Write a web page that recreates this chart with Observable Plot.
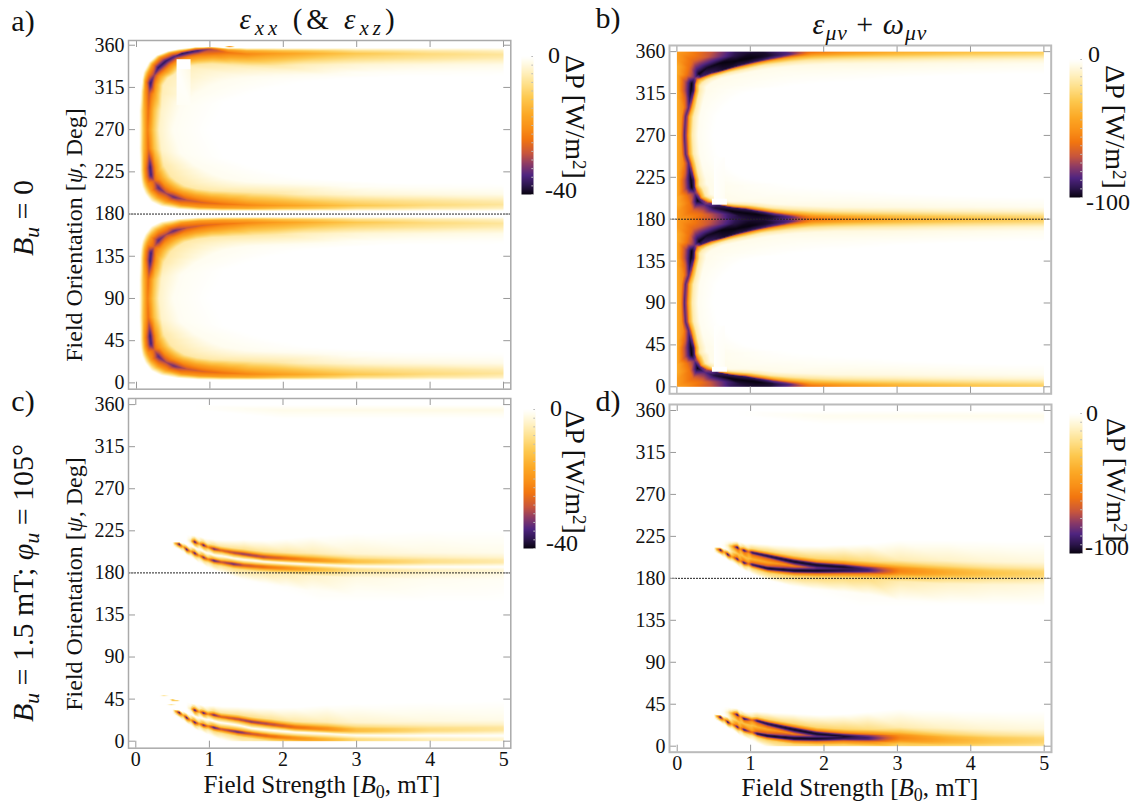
<!DOCTYPE html>
<html><head><meta charset="utf-8">
<script src="https://cdn.jsdelivr.net/npm/d3@7"></script>
<script src="https://cdn.jsdelivr.net/npm/@observablehq/plot@0.6"></script>
<style>
html,body{margin:0;background:#fff}
#c{position:relative;width:1139px;height:808px;overflow:hidden;font-family:"Liberation Serif",serif;color:#111}
#c svg{position:absolute;overflow:visible}
.t{position:absolute;white-space:nowrap;line-height:1.25}
.t sub{font-size:.72em;vertical-align:-0.28em;line-height:0}
.t sup{font-size:.68em;vertical-align:.42em;line-height:0}
.r{transform:translate(-50%,-50%) rotate(-90deg)}
.d{transform:translate(-50%,-50%) rotate(90deg)}
.m{transform:translate(-50%,-50%)}
</style></head><body><div id="c"></div>
<script>
// tick labels
const psiTicks=[0,45,90,135,180,225,270,315,360];
const bTicks=[0,1,2,3,4,5];
// colour ramp, position along the bar -> colour
const rampAt=[0,.03,.1,.2,.3,.42,.52,.6,.7,.78,.86,.93,1];
const rampCol=["#ffffff","#fffdf0","#fff3c8","#fee08a","#fdc84e","#fca825","#f98f17","#f2750f","#c9563c","#8b3a66","#4f2480","#2e1650","#080310"];
// Panel a: cross sections of the ridge, d = degrees from the 0/180 edge. Each row is b,d,v seven times.
const aQuarter=[
[.04,90,0, .09,90,-12, .15,90,-23, .23,90,-12, .31,90,-4, .5,90,-1, 1,90,0],
[.04,70,0, .09,70,-13, .16,70,-25, .24,70,-13, .34,68,-4, .6,65,-1, 1.2,60,0],
[.05,46,0, .11,48,-20, .185,50,-36, .26,50,-20, .37,52,-6, .8,52,-1.2, 1.6,50,0],
[.06,36,0, .12,39,-20, .195,42,-36, .27,44,-20, .42,46,-6, .95,46,-1.2, 1.9,44,0],
[.08,28,0, .15,32,-20, .24,35,-27, .32,38,-19, .47,40,-6, 1.05,42,-1.2, 2.1,42,0],
[.12,21,0, .2,25,-20, .3,28,-34, .38,32,-20, .55,35,-6, 1.2,38,-1.2, 2.2,40,0],
[.2,13,0, .3,18,-20, .4,22,-30, .49,26,-20, .66,30,-6, 1.35,36,-1.2, 2.4,38,0],
[.33,8,0, .42,13.5,-20, .51,18,-33, .62,22,-20, .82,27,-6, 1.55,34,-1.2, 2.6,37,0],
[.55,5,0, .63,9.5,-20, .7,14.5,-28, .8,19,-19, 1.02,25,-6, 1.85,33,-1.2, 2.8,36,0],
[.82,3.5,0, .87,7.5,-19, .92,12,-26, 1.02,17,-18, 1.3,24,-6, 2.2,32,-1.2, 3,35,0],
[1.15,3,0, 1.17,6.5,-18, 1.2,10.5,-24, 1.28,15.5,-17, 1.6,23,-6, 2.5,31,-1.2, 3.3,34,0],
[1.5,3,0, 1.5,6,-16, 1.5,9.5,-22, 1.5,14,-16, 1.9,22,-6, 2.8,30,-1, 3.6,33,0],
[2,3,0, 2,6,-13, 2,9,-18, 2,13.5,-14, 2.2,21,-5, 3,29,-.8, 3.9,33,0],
[2.5,3,0, 2.5,6,-11, 2.5,9,-15, 2.5,13.5,-11, 2.6,21,-4, 3.3,29,-.7, 4.2,33,0],
[3,3,0, 3,6,-8, 3,9,-12, 3,13.5,-9, 3,21,-3, 3.6,29,-.6, 4.5,33,0],
[4,3,0, 4,6,-6, 4,9.5,-9, 4,14,-7, 4,21,-2.2, 4.4,29,-.4, 4.8,33,0],
[5,3,0, 5,6,-4.5, 5,10,-7, 5,14,-5.5, 5,21,-1.7, 5,29,-.3, 5,33,0]];
// the top quadrant of panel a has a thinner, darker ridge
const aTop=[
[.04,90,0, .09,90,-12, .15,90,-23, .23,90,-12, .31,90,-4, .5,90,-1, 1,90,0],
[.04,70,0, .09,70,-13, .16,70,-25, .24,70,-13, .34,68,-4, .6,65,-1, 1.2,60,0],
[.06,48,0, .11,50,-18, .17,52,-28, .25,52,-18, .35,52,-5, .8,52,-1.2, 1.6,50,0],
[.08,36,0, .12,39,-20, .19,41,-37, .26,42,-20, .36,43,-5, .95,46,-1.2, 1.9,44,0],
[.1,28,0, .16,30,-20, .24,32,-31, .31,33,-20, .43,35,-5, 1.05,42,-1.2, 2.1,42,0],
[.17,18,0, .22,20.5,-20, .295,24,-37, .37,28,-22, .52,31,-5, 1.2,38,-1.2, 2.2,40,0],
[.27,11,0, .32,13,-20, .4,17,-37, .47,21,-22, .58,26,-5, 1.35,36,-1.2, 2.4,38,0],
[.42,6.5,0, .46,8.5,-20, .52,12,-35, .58,16,-20, .68,23,-5, 1.55,34,-1.2, 2.6,37,0],
[.58,4,0, .6,6.5,-20, .62,9,-38, .7,13,-22, .82,21,-6, 1.85,33,-1.2, 2.8,36,0],
[.8,2,0, .8,3.8,-22, .82,6,-36, .87,10,-24, 1.02,20,-6, 2.05,32,-1.2, 3,35,0],
[1,1.8,0, 1,3,-24, 1,4.5,-30, 1.07,9,-24, 1.3,21,-6, 2.5,31,-1.2, 3.3,34,0],
[1.25,3,0, 1.25,5,-18, 1.25,8,-24, 1.28,13,-17, 1.6,22,-6, 2.6,31,-1.2, 3.4,34,0],
[1.5,3,0, 1.5,6,-16, 1.5,9.5,-22, 1.5,14,-16, 1.9,22,-6, 2.8,30,-1, 3.6,33,0],
[2,3,0, 2,6,-13, 2,9,-18, 2,13.5,-14, 2.2,21,-5, 3,29,-.8, 3.9,33,0],
[2.5,3,0, 2.5,6,-11, 2.5,9,-15, 2.5,13.5,-11, 2.6,21,-4, 3.3,29,-.7, 4.2,33,0],
[3,3,0, 3,6,-8, 3,9,-12, 3,13.5,-9, 3,21,-3, 3.6,29,-.6, 4.5,33,0],
[4,3,0, 4,6,-6, 4,9.5,-9, 4,14,-7, 4,21,-2.2, 4.4,29,-.4, 4.8,33,0],
[5,3,0, 5,6,-4.5, 5,10,-7, 5,14,-5.5, 5,21,-1.7, 5,29,-.3, 5,33,0]];
const aWhite=[[[.54,296,-.9,.54,334,-.2],[.74,296,-.7,.74,334,-2.2]],[[.54,334,0,.54,345,0],[.74,334,0,.74,345,0]]];
// Panel b: cross sections, eight knots each
const bHead=[
[0,90,-40, .05,90,-48, .1,90,-85, .13,90,-72, .16,90,-42, .21,90,-14, .29,90,-3, .5,90,0],
[0,70,-40, .06,70,-50, .115,70,-84, .145,70,-72, .17,70,-42, .225,70,-14, .31,70,-3, .55,70,0],
[0,60,-40, .09,60,-55, .16,60,-85, .185,60,-72, .21,60,-42, .26,60,-14, .34,60,-3, .65,60,0],
[0,50,-40, .11,50,-66, .175,50,-94, .21,50,-82, .24,50,-42, .285,50,-14, .37,50,-3.5, .8,50,0],
[0,42,-40, .125,42,-78, .19,42,-100, .23,42,-90, .265,42,-42, .31,42,-14, .4,42,-4, .95,44,0],
[0,33,-40, .125,33,-76, .2,34,-100, .235,35,-90, .265,36,-42, .31,37,-14, .4,38,-4, 1.2,40,0],
[0,24,-40, .13,25,-60, .24,28,-82, .27,29,-72, .3,30.5,-42, .35,33,-14, .44,35,-4, 1.5,38,0]];
const bMid13=[
[0,16,-40, .17,17,-60, .28,20,-100, .31,22,-85, .34,23.5,-42, .39,25,-14, .46,27,-4, 1.7,35,0],
[0,8,-46, .22,9,-64, .38,15.5,-85, .41,18,-75, .44,19.5,-42, .49,21,-14, .58,23,-4, 1.8,35,0],
[0,0,-46, .34,5,-62, .52,12,-96, .55,15.5,-90, .57,16.5,-42, .62,17.5,-14, .72,19,-4, 1.9,34,0],
[.5,0,-72, .68,5.5,-88, .72,9,-100, .75,12.5,-92, .77,14,-42, .84,16,-14, .95,19,-4, 2.1,33,0],
[.72,0,-90, .86,3.5,-96, .9,7,-100, .92,11,-92, .95,13,-42, 1.02,15,-14, 1.15,18,-4, 2.3,32,0],
[1,0,-96, 1.09,2.5,-98, 1.12,5,-100, 1.14,8,-90, 1.17,10.5,-42, 1.25,12.5,-14, 1.38,16,-4, 2.6,31,0],
[1.25,0,-96, 1.29,1.5,-96, 1.31,3.5,-96, 1.34,6,-80, 1.38,8,-42, 1.46,11,-15, 1.6,15,-4.5, 2.8,30,0]];
const bMid24=[
[0,16,-40, .17,17,-62, .3,24,-100, .33,27,-90, .36,28.5,-42, .41,30,-14, .5,32,-4, 1.7,35,0],
[0,8,-46, .22,10,-64, .42,17,-98, .46,23,-92, .48,25,-42, .53,26.5,-14, .62,28,-4, 1.8,35,0],
[0,0,-46, .36,6,-66, .6,12,-100, .64,19.5,-96, .66,21,-42, .71,22.5,-14, .8,25,-4, 1.9,34,0],
[.5,0,-72, .78,5,-94, .82,10,-100, .86,14.5,-94, .89,16.5,-42, .95,18.5,-14, 1.05,21,-4, 2.1,33,0],
[.8,0,-92, .98,3,-98, 1.02,7,-100, 1.05,11,-92, 1.08,13,-42, 1.15,15,-14, 1.28,18,-4, 2.4,32,0],
[1.15,0,-96, 1.22,2.2,-97, 1.27,4.5,-96, 1.31,7,-85, 1.36,9,-42, 1.45,12,-15, 1.58,15.5,-4.5, 2.8,30,0]];
const bTail=[
[1.45,0,-85, 1.5,1,-86, 1.55,2.5,-85, 1.6,4,-68, 1.66,6,-40, 1.75,9.5,-16, 1.9,14,-5, 3,28,0],
[1.75,0,-62, 1.78,.5,-62, 1.8,1,-60, 1.85,3,-50, 1.9,5,-36, 2,8.5,-17, 2.15,13,-5.5, 3.3,27,0],
[2.3,0,-50, 2.3,.5,-50, 2.3,1,-48, 2.3,3,-42, 2.3,5,-30, 2.3,8.5,-15, 2.4,13,-5.5, 3.6,26,0],
[3,0,-40, 3,.5,-40, 3,1,-38, 3,3,-34, 3,5,-25, 3,8.5,-13, 3,13,-5, 4,25,0],
[4,0,-33, 4,.5,-33, 4,1,-31, 4,3,-27, 4,5,-20, 4,8.5,-10, 4,13,-4, 4.5,24,0],
[5,0,-28, 5,.5,-28, 5,1,-26, 5,3,-23, 5,5,-17, 5,8.5,-8, 5,13,-3, 5,24,0]];
const bWhite=[
[[.48,16,0,.48,22,0],[.68,16,0,.68,22,0]],[[.5,22,0,.5,66,0],[.66,22,-2.5,.66,66,-.8]],
[[.48,196,0,.48,202,0],[.68,196,0,.68,202,0]],[[.5,202,0,.5,246,0],[.66,202,-2.5,.66,246,-.8]]];
// Panels c, d: twin arcs. Row: b, lower arc psi, value, between psi, value, upper arc psi, value, half width, tail
const cUpper=[
[.5,212,0,213,0,214,0,1.4,3],[.59,210.6,-38,213,0,215,0,1.4,3.5],[.64,208,-14,212,0,215,0,1.4,4],[.69,205,-38,210,0,215,0,1.4,4],
[.745,203,-16,208.5,0,214,-6,1.5,4],[.8,201,-37,207,0,213,-38,1.5,5],[.86,198.5,-18,205,0,211,-16,1.5,6],[.92,196.5,-34,203,0,209.5,-36,1.5,6],
[.98,194.5,-22,201,0,207.5,-20,1.6,7],[1.06,193,-35,199,0,205.5,-33,1.7,8],[1.16,191.5,-28,198,0,204,-26,1.8,9],[1.33,189.4,-33,195.5,0,201.5,-29,2,11],
[1.47,188,-28,194,0,200,-31,2.1,13],[1.74,186.3,-25,192,0,197,-29,2.3,15],[2.05,185,-21,190.3,0,195.5,-25,2.5,18],[2.4,184,-15,189,-.5,193.7,-21,3,22],
[3,183,-8,187,-.3,192,-13,3.5,26],[4,182.5,-4.5,186.5,-.2,192,-8,4,28],[5,182.5,-3,186.5,-.2,192,-6,4,28]];
const cLower=[
[.5,33,0,34,0,35,0,1.4,3],[.59,30.5,-38,33,0,35,0,1.4,3.5],[.64,27.8,-14,32,0,36,0,1.4,4],[.69,25,-38,30,0,36,0,1.4,4],
[.745,22.5,-16,28.5,0,34.5,-6,1.5,4],[.8,20,-37,26.5,0,33,-38,1.5,5],[.86,18.5,-18,25,0,31.5,-16,1.5,6],[.92,17,-34,24,0,30,-36,1.5,6],
[.98,16,-22,23,0,29,-20,1.6,7],[1.06,14.5,-35,21.5,0,28,-33,1.7,8],[1.16,12.7,-28,19.6,0,26,-26,1.8,9],[1.39,9.8,-33,17,0,23.5,-29,2,11],
[1.57,7.8,-28,13.8,0,20.7,-31,2.1,13],[1.84,5.2,-25,11.5,0,18,-29,2.3,15],[2.16,3.2,-21,9.5,0,15,-25,2.5,18],[2.6,1.5,-15,8,-.5,13,-21,3,22],
[3,1.5,-9,6.2,-.3,11.6,-14,3.5,24],[4,1.5,-5,6,-.2,12,-9,4,25],[5,1.5,-3.5,6,-.2,13,-7,4,25]];
const dUpper=[
[.5,212,0,213,0,214,0,1.5,3],[.59,210.4,-98,213,0,215,0,1.5,3.5],[.64,208,-38,212,0,215,-2,1.5,4],[.69,205.4,-98,210,-5,215,-12,1.5,4],
[.745,203,-42,208.5,-18,214,-38,1.5,4],[.82,200.5,-92,206.5,-30,213,-98,1.5,5],[.86,198.5,-50,205,-32,211,-48,1.5,6],[.91,196.5,-95,203,-32,209.7,-95,1.5,6],
[.97,195.5,-60,201,-32,208.5,-60,1.6,7],[1.02,194.5,-92,200.5,-37,207.5,-92,1.7,8],[1.23,190.5,-98,197,-42,204,-95,2,10],[1.59,188.2,-98,193,-55,198,-98,2.5,14],
[1.9,188,-98,191,-82,194.3,-98,2.8,17],[2.27,188.5,-95,190.2,-90,192,-98,3.2,20],[2.6,188.7,-90,189,-90,189.6,-88,3.6,23],[3.04,187.5,-55,188,-55,188.5,-55,4.5,27],
[3.7,186,-40,186.4,-40,186.8,-40,5,28],[4.3,185,-31,185.4,-31,185.8,-31,5,28],[5,184.5,-25,185,-25,185.5,-25,5,28]];
const dLower=[
[.5,33,0,34,0,35,0,1.5,3],[.59,31,-98,33.5,0,36,0,1.5,3.5],[.64,28.3,-38,32.5,0,36.5,-2,1.5,4],[.69,25.7,-98,31,-5,36,-12,1.5,4],
[.745,23.5,-42,29.5,-18,35,-38,1.5,4],[.82,20.5,-92,27,-30,33.6,-98,1.5,5],[.86,19,-50,25.5,-32,31.5,-48,1.5,6],[.91,17.5,-92,24,-32,29.3,-95,1.5,6],
[1.02,14.8,-60,22,-32,27.9,-60,1.6,7],[1.09,13.2,-95,20.5,-37,27.2,-92,1.7,8],[1.23,11,-98,18,-42,24,-95,2,10],[1.59,8.2,-98,13,-55,17.9,-98,2.5,14],
[1.9,8,-98,10.5,-82,13.2,-98,2.8,17],[2.27,9,-95,9.5,-90,10.4,-98,3.2,20],[2.6,8.7,-90,9,-90,9.3,-88,3.6,23],[3.04,8.5,-55,9,-55,9.5,-55,4.5,25],
[3.7,6.4,-40,6.8,-40,7.2,-40,5,25],[4.3,5.6,-31,6,-31,6.4,-31,5,25],[5,5.5,-25,6,-25,6.5,-25,5,25]];
// pale glow: rows are b then psi,v pairs
const cGlow=[
[[.8,350,0,355,0,359,0],[2,345,0,354,-1.6,359.5,0],[5,345,0,354,-2,359.5,0]],
[[1.5,170,0,180,-.5,190,0],[2.5,150,0,172,-1.5,186,0],[4,150,0,172,-1,186,0],[5,155,0,172,-.6,186,0]],
[[.42,43.5,0,43.7,0,44,0],[.5,43,0,43.7,-32,44.8,0],[.6,43,0,43.7,0,44,0]],
[[.33,48,0,48.6,0,49.2,0],[.38,48,0,48.6,-8,49.2,0],[.45,48,0,48.6,0,49.2,0]],
[[.42,38.3,0,39,0,39.7,0],[.48,38.3,0,39,-8,39.7,0],[.55,38.3,0,39,0,39.7,0]]];
const dGlow=[
[[.8,350,0,355,0,359,0],[2,345,0,354,-3,359.5,0],[5,345,0,354,-4,359.5,0]],
[[1.5,170,0,180,-1,190,0],[2.5,150,0,172,-3,186,0],[4,150,0,172,-2.5,186,0],[5,155,0,172,-1.5,186,0]]];

function chunk(row){const o=[];for(let i=0;i<row.length;i+=3)o.push([row[i],row[i+1],row[i+2]]);return o;}
function Mesh(){
  const pts=[],tris=[];
  return {pts,tris,strip(sections,over=false){
    const n=sections[0].length,start=pts.length;
    sections.forEach(s=>s.forEach(p=>pts.push({b:p[0],psi:p[1],v:p[2]})));
    for(let i=0;i<sections.length-1;i++)for(let j=0;j<n-1;j++){
      const a=start+i*n+j,c=a+n;
      tris.push([a,a+1,c,over],[a+1,c,c+1,over]);
    }
  }};
}
function quarter(m,rows,map){m.strip(rows.map(r=>chunk(r).map(p=>[p[0],map(p[1]),p[2]])));}
function glow(m,list){list.forEach(g=>m.strip(g.map(r=>{const o=[];for(let i=1;i<r.length;i+=2)o.push([r[0],r[i],r[i+1]]);return o;})));}
function arcs(m,rows){
  m.strip(rows.map(([b,L,vL,M,vM,U,vU,w0,far])=>{
    const w=w0*1.2,a=Math.min(w,.6*(M-L)),e=Math.min(w,.6*(U-M));
    return [[b,L-w-far,0],[b,L-2*w,.25*vL],[b,L-w,.58*vL],[b,L-.4*w,.93*vL],[b,L,vL],[b,L+.4*a,.93*vL+.07*vM],[b,L+a,.5*vL+.5*vM],[b,M,vM],
            [b,U-e,.5*vU+.5*vM],[b,U-.4*e,.93*vU+.07*vM],[b,U,vU],[b,U+.4*w,.93*vU],[b,U+w,.58*vU],[b,U+2*w,.25*vU],[b,U+w+far,0]];
  }));
}
const white=(m,list)=>list.forEach(g=>m.strip(g.map(chunk),true));
// custom interpolate for Plot.raster: fills only the triangles of the section mesh
const meshFill=tris=>(index,w,h,X,Y,V)=>{
  const W=new Float64Array(w*h);
  for(const [a,b,c,over] of tris){
    const ax=X[a],ay=Y[a],bx=X[b],by=Y[b],cx=X[c],cy=Y[c];
    const den=(by-cy)*(ax-cx)+(cx-bx)*(ay-cy); if(Math.abs(den)<1e-9) continue;
    const x0=Math.max(0,Math.floor(Math.min(ax,bx,cx))),x1=Math.min(w-1,Math.ceil(Math.max(ax,bx,cx)));
    const y0=Math.max(0,Math.floor(Math.min(ay,by,cy))),y1=Math.min(h-1,Math.ceil(Math.max(ay,by,cy)));
    for(let y=y0;y<=y1;y++)for(let x=x0;x<=x1;x++){
      const px=x+.5,py=y+.5;
      const l1=((by-cy)*(px-cx)+(cx-bx)*(py-cy))/den,l2=((cy-ay)*(px-cx)+(ax-cx)*(py-cy))/den,l3=1-l1-l2;
      if(l1<-1e-6||l2<-1e-6||l3<-1e-6) continue;
      const v=l1*V[a]+l2*V[b]+l3*V[c],i=y*w+x;
      W[i]=over?v:Math.min(W[i],v);
    }
  }
  return W;
};
const ma=Mesh();
quarter(ma,aQuarter,d=>d);quarter(ma,aQuarter,d=>180-d);quarter(ma,aQuarter,d=>180+d);quarter(ma,aTop,d=>360-d);
white(ma,aWhite);
ma.strip([[[1.2,357.5,0],[1.28,357.5,0],[1.36,357.5,0]],[[1.2,358.2,0],[1.28,358.2,-30],[1.36,358.2,0]],[[1.2,359,0],[1.28,359,0],[1.36,359,0]]]);
const mb=Mesh();
const b13=[...bHead,...bMid13,...bTail],b24=[...bHead,...bMid24,...bTail];
quarter(mb,b13,d=>d);quarter(mb,b24,d=>180-d);quarter(mb,b13,d=>180+d);quarter(mb,b24,d=>360-d);
white(mb,bWhite);
const mc=Mesh();arcs(mc,cUpper);arcs(mc,cLower);glow(mc,cGlow);
const md=Mesh();arcs(md,dUpper);arcs(md,dLower);glow(md,dGlow);

const root=document.getElementById("c");
function panel(m,vmax,g){
  const {L,R,T,B,x0,kx,y0,ky,labels,fw=1.5,fc="#aaa"}=g;
  const ml=60,mr=4,mt=8,mb=labels?30:4;
  const xlo=(L-x0)/kx,xhi=(R-x0)/kx,ylo=(y0-B)/ky,yhi=(y0-T)/ky;
  const tx=7/kx,ty=7/ky;
  const p=Plot.plot({
    width:ml+mr+R-L,height:mt+mb+B-T,marginLeft:ml,marginRight:mr,marginTop:mt,marginBottom:mb,
    style:{fontFamily:"Liberation Serif",background:"transparent",overflow:"visible"},
    x:{domain:[xlo,xhi],axis:null},y:{domain:[ylo,yhi],axis:null},
    color:{type:"linear",domain:rampAt.map(t=>-t*vmax),range:rampCol},
    marks:[
      Plot.raster(m.pts,{x:"b",y:"psi",fill:"v",x1:0,x2:5,y1:0,y2:360,interpolate:meshFill(m.tris)}),
      Plot.ruleY([180],{x1:xlo,x2:xhi,stroke:"#222",strokeWidth:1,strokeDasharray:"2 1"}),
      Plot.axisY(psiTicks,{tickSize:0,tickPadding:4,fontSize:20,fill:"#111",label:null,tickFormat:d=>d}),
      labels?Plot.axisX(bTicks,{tickSize:0,tickPadding:4,fontSize:20,fill:"#111",label:null,tickFormat:d=>d}):null,
      Plot.ruleY(psiTicks,{x1:xlo,x2:xlo+tx,stroke:"#999"}),
      Plot.ruleY(psiTicks,{x1:xhi,x2:xhi-tx,stroke:"#999"}),
      Plot.ruleX(bTicks,{y1:ylo,y2:ylo+ty,stroke:"#999"}),
      Plot.ruleX(bTicks,{y1:yhi,y2:yhi-ty,stroke:"#999"}),
      Plot.frame({stroke:fc,strokeWidth:fw})
    ]
  });
  p.style.left=(L-ml)+"px";p.style.top=(T-mt)+"px";
  root.appendChild(p);
}
function colorbar(vmax,g){
  const {x,y,w,h}=g;
  const minor=d3.range(0,vmax+.001,vmax/16).map(v=>-v);
  const p=Plot.plot({
    width:w,height:h,margin:0,
    style:{background:"transparent",overflow:"visible"},
    x:{domain:[0,1],axis:null},y:{domain:[-vmax,0],axis:null},
    color:{type:"linear",domain:rampAt.map(t=>-t*vmax),range:rampCol},
    marks:[
      Plot.raster({fill:(a,b)=>b,x1:0,x2:1,y1:-vmax,y2:0,pixelSize:1}),
      Plot.ruleY(minor,{x1:.86,x2:1,stroke:"#bbb"})
    ]
  });
  p.style.left=x+"px";p.style.top=y+"px";
  root.appendChild(p);
}
panel(ma,40,{L:127.7,R:510,T:40.3,B:389,x0:135.7,kx:73.4,y0:382.7,ky:.938});
panel(mb,100,{L:669.3,R:1051,T:44.7,B:393,x0:676.7,kx:73.4,y0:386,ky:.931,fw:2,fc:"#bbb"});
panel(mc,40,{L:127.7,R:510,T:398,B:747.7,x0:135,kx:73.6,y0:740.7,ky:.935,labels:true});
panel(md,100,{L:669,R:1051,T:404,B:751.7,x0:676.7,kx:73.4,y0:745.7,ky:.9325,fw:2,fc:"#bbb",labels:true});
colorbar(40,{x:521,y:56,w:12,h:138});
colorbar(100,{x:1068.7,y:59,w:13,h:138});
colorbar(40,{x:523,y:409,w:12,h:139});
colorbar(100,{x:1068.7,y:413,w:13,h:140});

function text(html,x,y,size,cls,extra){
  const d=document.createElement("div");d.className="t "+cls;d.innerHTML=html;
  d.style.left=x+"px";d.style.top=y+"px";d.style.fontSize=size+"px";
  if(extra)d.style.letterSpacing=extra;root.appendChild(d);
}
const dp='ΔP [W/m<sup>2</sup>]';
const fo='Field Orientation [<i>ψ</i>, Deg]';
const fs='Field Strength [<i>B</i><sub>0</sub>, mT]';
text('a)',23,21,30,'m');text('b)',608,18,30,'m');text('c)',23,401,30,'m');text('d)',608,401,30,'m');
text('<i>ε<sub>xx</sub></i> (&amp; <i>ε<sub>xz</sub></i>)',319,19,29,'m','4px');
text('<i>ε<sub>μν</sub></i> + <i>ω<sub>μν</sub></i>',870,24,30,'m','1px');
text('<i>B<sub>u</sub></i> = 0',23,218,30,'r');
text('<i>B<sub>u</sub></i> = 1.5 mT; <i>φ<sub>u</sub></i> = 105°',23,583,30,'r');
text(fo,74,235,24,'r');text(fo,74,584,24,'r');
text(fs,322,785,25,'m');text(fs,860,788,25,'m');
text('0',554,55,24,'m');text('-40',561,190,24,'m');
text('0',1094,54,24,'m');text('-100',1108,202,24,'m');
text('0',556,408,24,'m');text('-40',562,543,24,'m');
text('0',1092,413,24,'m');text('-100',1107,547,24,'m');
text(dp,575,117,28,'d');text(dp,1115,127,28,'d');text(dp,575,472,28,'d');text(dp,1116,480,28,'d');
</script></body></html>
